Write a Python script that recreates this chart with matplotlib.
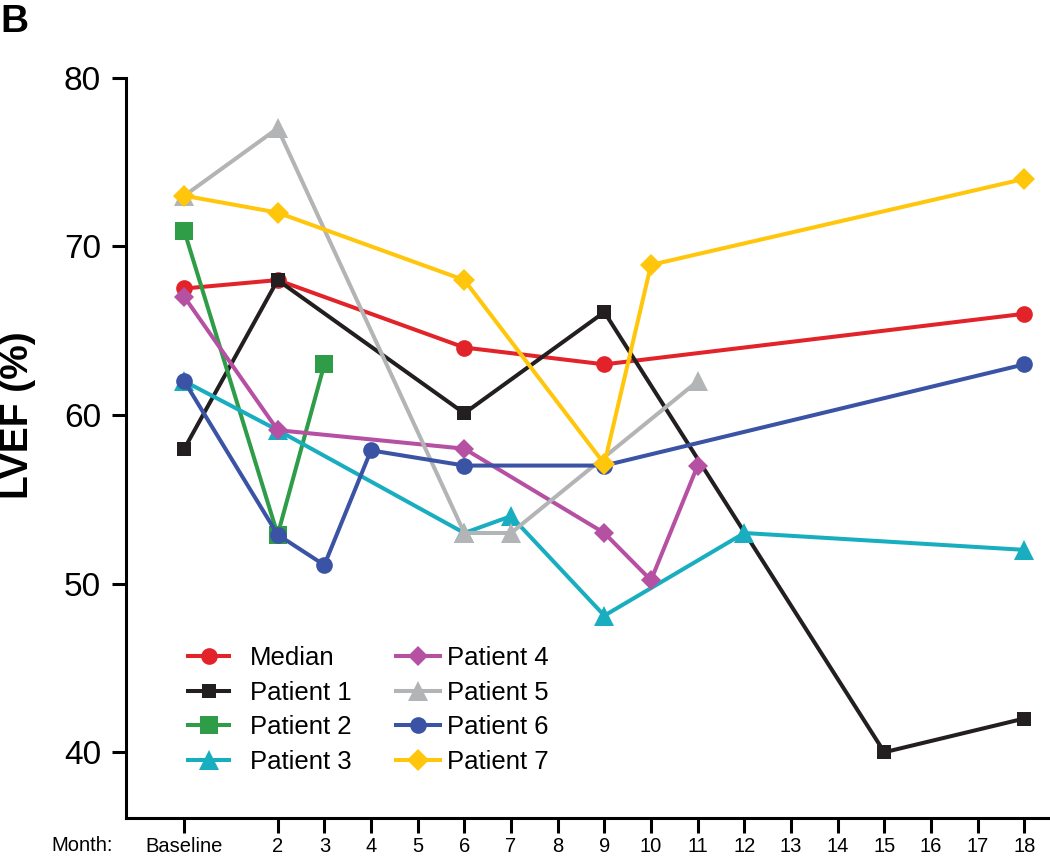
import matplotlib.pyplot as plt

# month 0 = baseline
MEDIAN_M = [0, 2, 6, 9, 18]
MEDIAN_V = [67.5, 68, 64, 63, 66]

P1_M = [0, 2, 6, 9, 15, 18]
P1_V = [58, 68, 60.1, 66.1, 40, 42]

P2_M = [0, 2, 3]
P2_V = [70.9, 52.9, 63]

P3_M = [0, 2, 6, 7, 9, 12, 18]
P3_V = [62, 59.1, 53, 54, 48.1, 53, 52]

P4_M = [0, 2, 6, 9, 10, 11]
P4_V = [67, 59.1, 58, 53, 50.2, 57]

P5_M = [0, 2, 6, 7, 11]
P5_V = [73, 77, 53, 53, 62]

P6_M = [0, 2, 3, 4, 6, 9, 18]
P6_V = [62, 52.9, 51.1, 57.9, 57, 57, 63]

P7_M = [0, 2, 6, 9, 10, 18]
P7_V = [73, 72, 68, 57.1, 68.9, 74]

TICK_MONTHS = [0, 2, 3, 4, 5, 6, 7, 8, 9, 10, 11, 12, 13, 14, 15, 16, 17, 18]
TICK_LABELS = ["Baseline"] + [str(m) for m in TICK_MONTHS[1:]]
Y_TICKS = [40, 50, 60, 70, 80]

plt.rcParams["font.family"] = ["Liberation Sans", "DejaVu Sans"]

W, H = 1050, 860


def main():
    fig = plt.figure(figsize=(W / 100, H / 100), dpi=100)
    ax = fig.add_axes([126 / W, 1 - 818 / H, 1 - 126 / W, (818 - 77.7) / H])

    series = [
        ("Median", MEDIAN_M, MEDIAN_V, "#E2232A", "o", 12),
        ("Patient 1", P1_M, P1_V, "#231F20", "s", 10),
        ("Patient 2", P2_M, P2_V, "#2F9C47", "s", 13),
        ("Patient 3", P3_M, P3_V, "#18AEC0", "^", 14),
        ("Patient 4", P4_M, P4_V, "#B650A2", "D", 10.5),
        ("Patient 5", P5_M, P5_V, "#B3B4B6", "^", 14),
        ("Patient 6", P6_M, P6_V, "#3A53A4", "o", 12),
        ("Patient 7", P7_M, P7_V, "#FFC60B", "D", 11),
    ]

    handles = []
    for i, (name, m, v, col, mk, ms) in enumerate(series):
        ln, = ax.plot(m, v, color=col, lw=2.9, marker=mk, ms=ms,
                      mec=col, mfc=col, mew=0, label=name, zorder=2 + i,
                      clip_on=False)
        handles.append(ln)

    ax.set_xlim(-1.25, 18.55)
    ax.set_ylim(36.1, 80)
    ax.set_xticks(TICK_MONTHS)
    ax.set_xticklabels(TICK_LABELS)
    ax.set_yticks(Y_TICKS)

    for s in ["top", "right"]:
        ax.spines[s].set_visible(False)
    for s in ["left", "bottom"]:
        ax.spines[s].set_linewidth(2.2)
    ax.tick_params(axis="y", length=10, width=2.2, pad=8, labelsize=24)
    ax.tick_params(axis="x", length=10.5, width=2.2, pad=3, labelsize=14.5)

    fig.text(113 / W, 1 - 836 / H, "Month:", ha="right", va="top",
             fontsize=14.5)
    fig.text(0.0, 1 - 415 / H, "LVEF (%)", rotation=90, ha="left",
             va="center", fontsize=28, fontweight="bold")
    fig.text(0.0, 1 - 32 / H, "B", ha="left", va="baseline", fontsize=28,
             fontweight="bold")

    leg1 = ax.legend(handles=handles[:4], loc="upper left",
                     bbox_to_anchor=(188 / W, 1 - 646 / H),
                     bbox_transform=fig.transFigure, frameon=False,
                     fontsize=18.5, handlelength=1.6, handletextpad=0.8,
                     labelspacing=0.41, borderpad=0, borderaxespad=0,
                     numpoints=1)
    ax.add_artist(leg1)
    ax.legend(handles=handles[4:], loc="upper left",
              bbox_to_anchor=(396 / W, 1 - 646 / H),
              bbox_transform=fig.transFigure, frameon=False,
              fontsize=18.5, handlelength=1.7, handletextpad=0.3,
              labelspacing=0.41, borderpad=0, borderaxespad=0,
              numpoints=1)

    fig.savefig("out.png", dpi=100)
    plt.close(fig)


if __name__ == "__main__":
    main()
